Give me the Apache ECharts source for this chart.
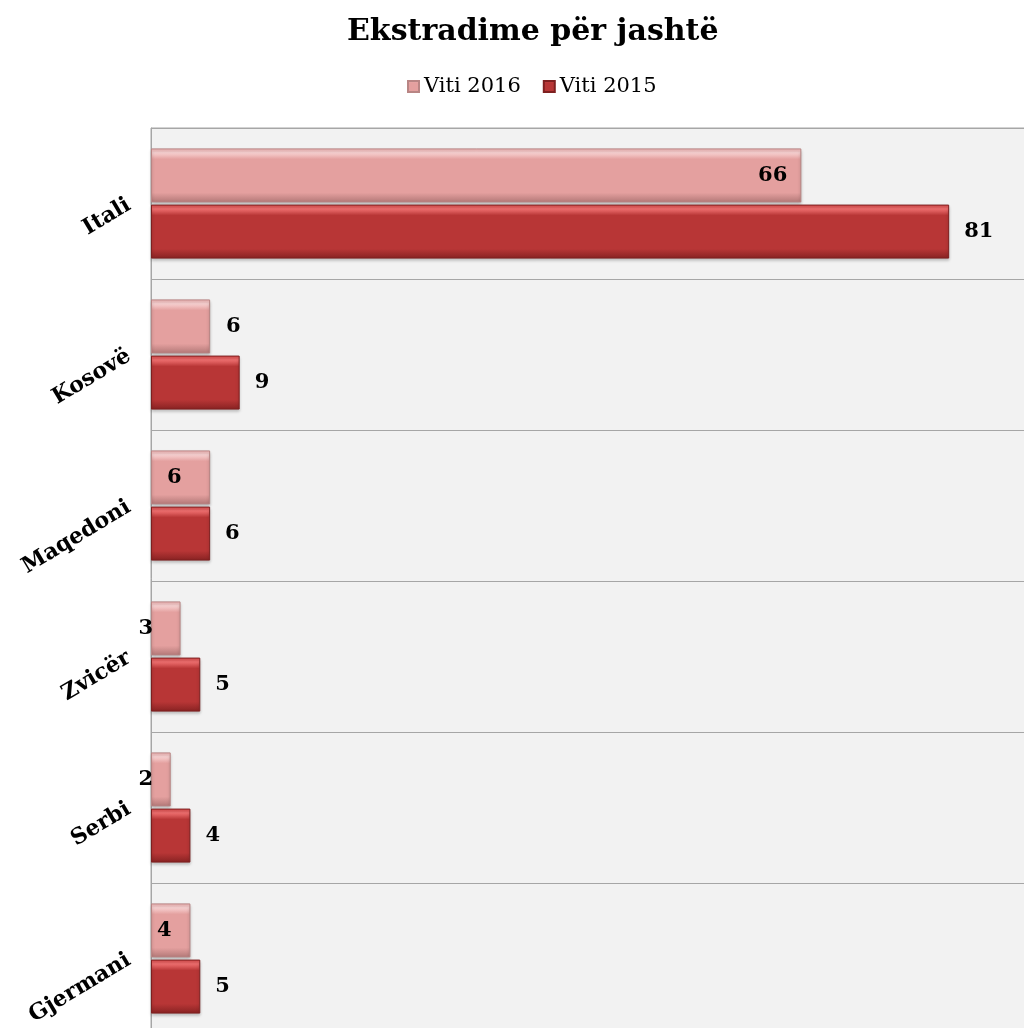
<!DOCTYPE html>
<html><head><meta charset="utf-8">
<script src="https://cdn.jsdelivr.net/npm/echarts@6/dist/echarts.min.js"></script>
<style>html,body{margin:0;padding:0;background:#fff}#c{width:1024px;height:1028px}</style>
</head><body><div id="c"></div>
<script>
const categories = ['Itali', 'Kosovë', 'Maqedoni', 'Zvicër', 'Serbi', 'Gjermani'];
const seriesNames = ['Viti 2016', 'Viti 2015'];
const values2016 = [66, 6, 6, 3, 2, 4];
const values2015 = [81, 9, 6, 5, 4, 5];
const labelPos2016 = [['insideRight', 14], ['right', 16], ['insideLeft', 16], ['left', -2], ['left', -2], ['insideLeft', 6]];

const FONT = '"DejaVu Serif", "Liberation Serif", serif';
function grad(top, hi, mid, bot) {
  return new echarts.graphic.LinearGradient(0, 0, 0, 1, [
    {offset: 0, color: top}, {offset: 0.08, color: hi}, {offset: 0.2, color: mid}, {offset: 0.82, color: mid}, {offset: 1, color: bot}
  ]);
}
const chart = echarts.init(document.getElementById('c'));
const lbl = {show: true, fontFamily: FONT, fontWeight: 'bold', fontSize: 21, color: '#000'};
chart.setOption({
  animation: false,
  title: {text: 'Ekstradime për jashtë', left: 342, top: 12,
    textStyle: {fontFamily: FONT, fontWeight: 'bold', fontSize: 30, color: '#000'}},
  legend: {top: 71, left: 402, itemWidth: 11, itemHeight: 11, itemGap: 22, icon: 'rect',
    textStyle: {fontFamily: FONT, fontSize: 21, color: '#000'}, data: seriesNames},
  grid: {left: 151, top: 128, width: 875, height: 906, show: true, backgroundColor: '#f2f2f2',
    borderColor: '#a6a6a6', borderWidth: 1, containLabel: false, outerBoundsMode: 'none'},
  xAxis: {type: 'value', min: 0, max: 88.8, show: false, splitLine: {show: false}},
  yAxis: {type: 'category', data: categories, inverse: true,
    axisLine: {show: true, lineStyle: {color: '#a6a6a6'}}, axisTick: {show: false},
    splitLine: {show: true, lineStyle: {color: '#a6a6a6', width: 1}},
    axisLabel: {rotate: 31, margin: 22, fontFamily: FONT, fontWeight: 'bold', fontSize: 22, color: '#000'}},
  series: [
    {name: seriesNames[0], type: 'bar', barWidth: 54, barGap: '4%',
      itemStyle: {color: grad('#f4b4b4', '#f8d2d2', '#e4a09f', '#b27877'), borderColor: '#b88584', borderWidth: 1,
        shadowColor: 'rgba(0,0,0,0.25)', shadowBlur: 3, shadowOffsetY: 2},
      data: values2016.map((v, i) => ({value: v, label: Object.assign({}, lbl, {position: labelPos2016[i][0], distance: labelPos2016[i][1]})}))},
    {name: seriesNames[1], type: 'bar', barWidth: 54,
      itemStyle: {color: grad('#d84848', '#f07070', '#b83636', '#872222'), borderColor: '#7e2020', borderWidth: 1,
        shadowColor: 'rgba(0,0,0,0.25)', shadowBlur: 3, shadowOffsetY: 2},
      label: Object.assign({}, lbl, {position: 'right', distance: 15}),
      data: values2015}
  ]
});
</script></body></html>
